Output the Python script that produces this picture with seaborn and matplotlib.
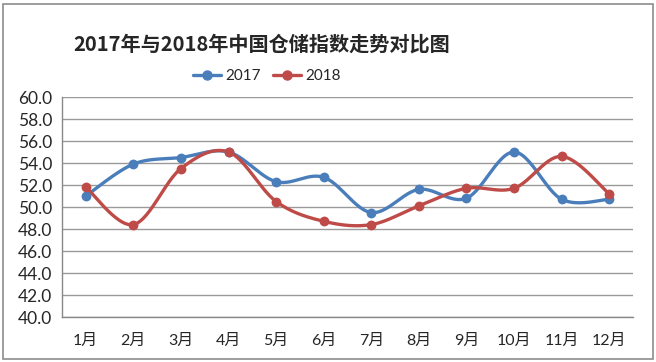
import numpy as np
import seaborn as sns
import matplotlib.pyplot as plt
from matplotlib.patches import Rectangle

months = ['1月', '2月', '3月', '4月', '5月', '6月', '7月', '8月', '9月', '10月', '11月', '12月']
vals_2017 = [51.0, 53.9, 54.5, 55.0, 52.3, 52.7, 49.5, 51.6, 50.8, 55.0, 50.7, 50.7]
vals_2018 = [51.8, 48.4, 53.5, 55.0, 50.5, 48.7, 48.4, 50.1, 51.7, 51.7, 54.6, 51.2]
y_ticks = [40, 42, 44, 46, 48, 50, 52, 54, 56, 58, 60]

sns.set_style('white')
plt.rcParams['font.family'] = ['Lato', 'Noto Sans CJK SC', 'DejaVu Sans']


def smooth(y, n=30):
    # Excel-style smoothed line (Catmull-Rom through the points)
    y = np.asarray(y, float)
    x = np.arange(len(y), dtype=float)
    p = np.concatenate([[y[0]], y, [y[-1]]])
    q = np.concatenate([[x[0]], x, [x[-1]]])
    xs, ys = [], []
    t = np.linspace(0, 1, n)
    for i in range(1, len(p) - 2):
        for arr, out in ((q, xs), (p, ys)):
            p0, p1, p2, p3 = arr[i - 1], arr[i], arr[i + 1], arr[i + 2]
            c1 = p1 + (p2 - p0) / 6
            c2 = p2 - (p3 - p1) / 6
            out.extend((1 - t) ** 3 * p1 + 3 * (1 - t) ** 2 * t * c1 + 3 * (1 - t) * t ** 2 * c2 + t ** 3 * p2)
    return np.array(xs), np.array(ys)


fig = plt.figure(figsize=(6.56, 3.62), dpi=100)
ax = fig.add_axes([62 / 656, 45 / 362, 571 / 656, 220 / 362])

colors = {'2017': '#4A7EBB', '2018': '#BE4B48'}
for name, vals in (('2017', vals_2017), ('2018', vals_2018)):
    sx, sy = smooth(vals)
    sns.lineplot(x=sx, y=sy, ax=ax, color=colors[name], linewidth=2.4, sort=False, zorder=3)
    sns.scatterplot(x=np.arange(len(vals)), y=vals, ax=ax, color=colors[name], s=50,
                    edgecolor=colors[name], linewidth=0, zorder=4)

ax.set_xlim(-0.5, 11.5)
ax.set_ylim(40, 60)
ax.set_yticks(y_ticks)
ax.set_yticklabels([f'{v:.1f}' for v in y_ticks], fontsize=12.5)
ax.set_xticks(range(12))
ax.set_xticklabels(months, fontsize=11.5)
ax.set_xticks(np.arange(-0.5, 12, 1), minor=True)
ax.tick_params(axis='x', which='major', length=0, pad=12)
ax.tick_params(axis='x', which='minor', length=5, color='#888888', width=1)
ax.tick_params(axis='y', length=4, color='#888888', pad=3)
ax.grid(axis='y', color='#9a9a9a', linewidth=1)
for s in ('top', 'right'):
    ax.spines[s].set_visible(False)
for s in ('left', 'bottom'):
    ax.spines[s].set_color('#888888')
    ax.spines[s].set_linewidth(1)

# legend
handles = [plt.Line2D([], [], color=colors[k], linewidth=2.4, marker='o', markersize=6.5) for k in colors]
fig.legend(handles, list(colors), loc='center', bbox_to_anchor=(267 / 656, 1 - 76 / 362), ncol=2,
           frameon=False, fontsize=11, handlelength=1.8, columnspacing=0.8, handletextpad=0.3)

fig.text(262 / 656, 1 - 44 / 362, '2017年与2018年中国仓储指数走势对比图', ha='center', va='center',
         fontsize=14.5, fontweight='bold', family=['Noto Sans CJK SC'])

fig.patches.append(Rectangle((3 / 656, 3 / 362), 650 / 656, 355 / 362, transform=fig.transFigure,
                             fill=False, edgecolor='#8c8c8c', linewidth=1.2))

fig.savefig('out.png', dpi=100)
